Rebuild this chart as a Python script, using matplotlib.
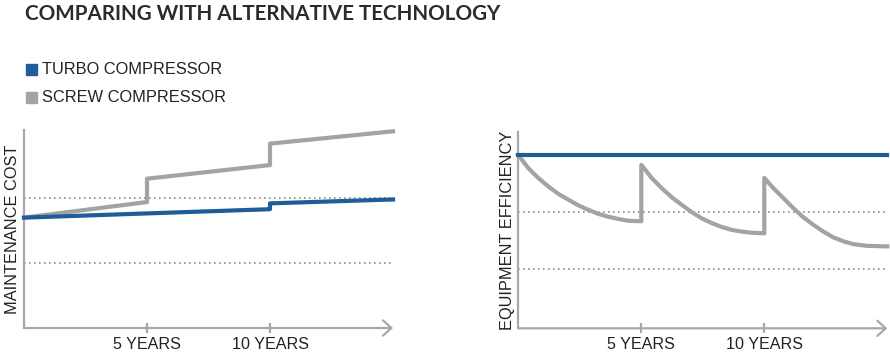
## plot.py - comparing turbo vs screw compressor
import numpy as np
import matplotlib.pyplot as plt
from matplotlib.patches import Rectangle

# data
series = ["TURBO COMPRESSOR", "SCREW COMPRESSOR"]
colors = ["#1f5c99", "#a3a3a3"]

tick_years = [5, 10]
tick_labels = ["5 YEARS", "10 YEARS"]

# maintenance cost (arbitrary units, steps at the overhauls)
turbo_cost_x = [0, 10, 10, 15]
turbo_cost_y = [1.70, 1.83, 1.92, 1.98]
screw_cost_x = [0, 5, 5, 10, 10, 15]
screw_cost_y = [1.70, 1.94, 2.30, 2.51, 2.84, 3.03]

# equipment efficiency
turbo_eff_x = [0, 15]
turbo_eff_y = [3.0, 3.0]
screw_eff_x = [0, 0.41, 0.81, 1.22, 1.63, 2.03, 2.44, 2.85, 3.25, 3.66, 4.07, 4.47, 5.0,
               5.0, 5.42, 5.83, 6.24, 6.64, 7.05, 7.46, 7.86, 8.27, 8.67, 9.08, 9.49, 10.0,
               10.0, 10.37, 10.77, 11.18, 11.59, 11.99, 12.40, 12.80, 13.21, 13.62, 14.16, 15.0]
screw_eff_y = [3.0, 2.77, 2.60, 2.45, 2.32, 2.22, 2.12, 2.04, 1.97, 1.92, 1.88, 1.85, 1.84,
               2.83, 2.60, 2.42, 2.26, 2.13, 2.00, 1.89, 1.81, 1.74, 1.69, 1.66, 1.64, 1.63,
               2.60, 2.42, 2.25, 2.07, 1.91, 1.78, 1.66, 1.56, 1.49, 1.44, 1.41, 1.40]

axis_col = "#a8a8a8"
txt_col = "#222222"
plt.rcParams['font.family'] = ['Liberation Sans', 'DejaVu Sans']

W, H = 890, 356
fig = plt.figure(figsize=(W/100, H/100), dpi=100)

def make_axes(x0, x1, ytop, ybot, ylim, label, label_x):
    ax = fig.add_axes([x0/W, 1 - ybot/H, (x1 - x0)/W, (ybot - ytop)/H])
    ax.set_xlim(0, 15)
    ax.set_ylim(*ylim)
    for s in ["top", "right", "bottom"]:
        ax.spines[s].set_visible(False)
    ax.spines["left"].set_color(axis_col)
    ax.spines["left"].set_linewidth(1.6)
    ax.annotate("", xy=(1, 0), xytext=(0, 0), xycoords="axes fraction",
                arrowprops=dict(arrowstyle="->,head_length=0.6,head_width=0.55",
                                color=axis_col, lw=1.6, shrinkA=0, shrinkB=0,
                                mutation_scale=10), annotation_clip=False)
    ax.set_yticks([])
    ax.set_xticks(tick_years)
    ax.set_xticklabels(tick_labels, fontsize=11.6, color=txt_col)
    ax.tick_params(axis="x", direction="inout", length=7, width=1.6,
                   color=axis_col, pad=3)
    for g in [1, 2]:
        ax.axhline(g, color="#8c8c8c", lw=1.2, ls=(0, (1, 2)), zorder=1)
    fig.text(label_x/W, 1 - (ytop + ybot)/2/H, label, rotation=90,
             ha="center", va="center", fontsize=11.8, color=txt_col)
    return ax

# left: maintenance cost
ax1 = make_axes(24, 393, 130, 328, (0, 3.05), "MAINTENANCE COST", 12.5)
ax1.plot(screw_cost_x, screw_cost_y, color=colors[1], lw=3, zorder=3)
ax1.plot(turbo_cost_x, turbo_cost_y, color=colors[0], lw=3, zorder=4)

# right: equipment efficiency
ax2 = make_axes(518.3, 887.3, 131.7, 328.3, (-0.035, 3.41),
                "EQUIPMENT EFFICIENCY", 507.5)
ax2.plot(screw_eff_x, screw_eff_y, color=colors[1], lw=3, zorder=3,
         solid_joinstyle="round")
ax2.plot(turbo_eff_x, turbo_eff_y, color=colors[0], lw=3, zorder=4)
for ax in (ax1, ax2):
    for ln in ax.lines:
        ln.set_clip_on(False)

# legend drawn by hand
for i, (name, c) in enumerate(zip(series, colors)):
    yc = 69.5 + i*28
    fig.add_artist(Rectangle((26/W, 1 - (yc + 5.3)/H), 10.5/W, 10.6/H,
                             color=c, transform=fig.transFigure))
    fig.text(42/W, 1 - yc/H, name, ha="left", va="center",
             fontsize=11.8, color=txt_col)

fig.text(25/W, 1 - 13.5/H, "COMPARING WITH ALTERNATIVE TECHNOLOGY",
         ha="left", va="center", fontsize=14.9, fontweight="bold",
         family="Lato", color="#2b2b2b")

plt.savefig("out.png", dpi=100)
